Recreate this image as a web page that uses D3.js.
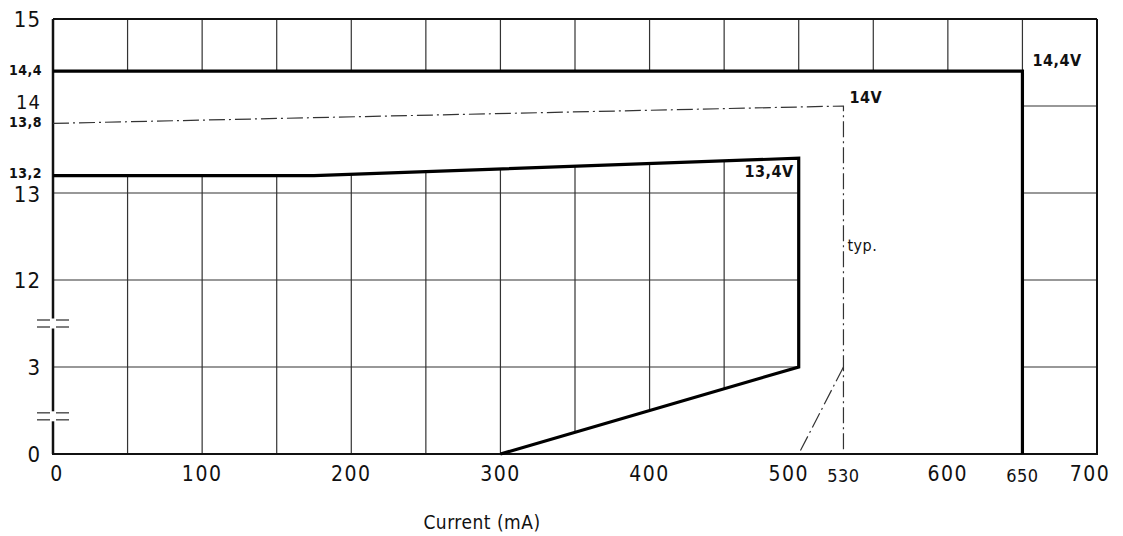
<!DOCTYPE html>
<html>
<head>
<meta charset="utf-8">
<script src="https://cdn.jsdelivr.net/npm/d3@7"></script>
<style>
	body { margin: 0; background: #fff; }
	text { font-family: 'DejaVu Sans Condensed', 'DejaVu Sans', sans-serif; fill: #111; }
</style>
</head>
<body>
<script>
var xTicks = [0, 100, 200, 300, 400, 500, 600, 700];
var xMarks = [530, 650];
var xGrid = [50, 100, 150, 200, 250, 300, 350, 400, 450, 500, 550, 600, 650];
var yTicks = [0, 3, 12, 13, 14, 15];
var yMarks = [13.2, 13.8, 14.4];
var yGrid = [3, 12, 13, 14];
var yBreaks = [7.5, 1.3];

// limit curves, [current mA, voltage V]
var maxLimit = [[0, 14.4], [650, 14.4], [650, 0]];
var minLimit = [[0, 13.2], [175, 13.2], [500, 13.4], [500, 3], [300, 0]];
var typLimit = [[0, 13.8], [530, 14], [530, 0.1]];
var typFoot = [[530, 3], [500, 0]];

var curveLabels = [
	{ text: '14,4V', x: 650, y: 14.4, dx: 10, dy: -5, anchor: 'start', bold: true },
	{ text: '14V', x: 530, y: 14, dx: 6, dy: -3, anchor: 'start', bold: true },
	{ text: '13,4V', x: 500, y: 13.4, dx: -5, dy: 19, anchor: 'end', bold: true },
	{ text: 'typ.', x: 530, y: 12.4, dx: 4, dy: 6, anchor: 'start', bold: false }
];

var width = 1123, height = 536;
var x = d3.scaleLinear().domain([0, 700]).range([53, 1097]);
var y = d3.scaleLinear().domain([0, 3, 12, 15]).range([454, 367, 280, 19]);

var svg = d3.select('body')
	.append('svg')
	.attr('width', width)
	.attr('height', height);

var line = d3.line()
	.x(function(d) { return x(d[0]); })
	.y(function(d) { return y(d[1]); });

// grid
svg.append('g').selectAll('line')
	.data(xGrid)
	.enter()
	.append('line')
	.attr('x1', function(d) { return x(d); })
	.attr('x2', function(d) { return x(d); })
	.attr('y1', y(0))
	.attr('y2', y(15))
	.attr('stroke', '#333')
	.attr('stroke-width', 1.2);

svg.append('g').selectAll('line')
	.data(yGrid)
	.enter()
	.append('line')
	.attr('x1', x(0))
	.attr('x2', x(700))
	.attr('y1', function(d) { return y(d); })
	.attr('y2', function(d) { return y(d); })
	.attr('stroke', '#333')
	.attr('stroke-width', 1.2);

// blank out the band between the two limit curves
var outer = [[0, 0], [0, 14.4], [650, 14.4], [650, 0]];
var inner = [[0, 0]].concat(minLimit);
svg.append('path')
	.attr('d', line(outer) + 'Z' + line(inner) + 'Z')
	.attr('fill', '#fff')
	.attr('fill-rule', 'evenodd');

// frame
svg.append('line')
	.attr('x1', x(0)).attr('x2', x(700))
	.attr('y1', y(15)).attr('y2', y(15))
	.attr('stroke', '#111').attr('stroke-width', 2);
svg.append('line')
	.attr('x1', x(700)).attr('x2', x(700))
	.attr('y1', y(15)).attr('y2', y(0))
	.attr('stroke', '#111').attr('stroke-width', 2);
svg.append('line')
	.attr('x1', x(0) - 1).attr('x2', x(700) + 1)
	.attr('y1', y(0)).attr('y2', y(0))
	.attr('stroke', '#111').attr('stroke-width', 2);
svg.append('line')
	.attr('x1', x(0)).attr('x2', x(0))
	.attr('y1', y(15)).attr('y2', y(0))
	.attr('stroke', '#111').attr('stroke-width', 2.5);

// axis break marks
var brk = svg.append('g').selectAll('g')
	.data(yBreaks)
	.enter()
	.append('g');
brk.append('rect')
	.attr('x', x(0) - 3)
	.attr('y', function(d) { return y(d) - 5; })
	.attr('width', 6)
	.attr('height', 10)
	.attr('fill', '#fff');
[-3.5, 3.5].forEach(function(off) {
	[[-16, -3], [3, 16]].forEach(function(seg) {
		brk.append('line')
			.attr('x1', x(0) + seg[0])
			.attr('x2', x(0) + seg[1])
			.attr('y1', function(d) { return y(d) + off; })
			.attr('y2', function(d) { return y(d) + off; })
			.attr('stroke', '#555')
			.attr('stroke-width', 1.5);
	});
});

// typical curve
[typLimit, typFoot].forEach(function(pts) {
	svg.append('path')
		.attr('d', line(pts))
		.attr('fill', 'none')
		.attr('stroke', '#333')
		.attr('stroke-width', 1.2)
		.attr('stroke-dasharray', '16,4,2,4');
});

// limit curves
[maxLimit, minLimit].forEach(function(pts) {
	svg.append('path')
		.attr('d', line(pts))
		.attr('fill', 'none')
		.attr('stroke', '#000')
		.attr('stroke-width', 3.2)
		.attr('stroke-linejoin', 'miter');
});

// y tick labels
var yShift = { 14: 3, 13: 9 };
svg.append('g').selectAll('text')
	.data(yTicks)
	.enter()
	.append('text')
	.text(function(d) { return d; })
	.attr('x', 41)
	.attr('y', function(d) { return y(d) + (d in yShift ? yShift[d] : 8); })
	.attr('text-anchor', 'end')
	.attr('font-size', function(d) { return d === 14 ? 20 : 22; })
	.attr('letter-spacing', 1);

svg.append('g').selectAll('text')
	.data(yMarks)
	.enter()
	.append('text')
	.text(function(d) { return String(d).replace('.', ','); })
	.attr('x', 42)
	.attr('y', function(d) { return y(d) + (d === 13.2 ? 2 : 4); })
	.attr('text-anchor', 'end')
	.attr('font-size', 14)
	.attr('font-weight', 'bold')
	.attr('letter-spacing', 0.5);

// x tick labels
var xShift = { 0: 4, 500: -10, 700: -7 };
svg.append('g').selectAll('text')
	.data(xTicks)
	.enter()
	.append('text')
	.text(function(d) { return d; })
	.attr('x', function(d) { return x(d) + (xShift[d] || 0); })
	.attr('y', 481)
	.attr('text-anchor', 'middle')
	.attr('font-size', 21)
	.attr('letter-spacing', 1.5);

svg.append('g').selectAll('text')
	.data(xMarks)
	.enter()
	.append('text')
	.text(function(d) { return d; })
	.attr('x', function(d) { return x(d); })
	.attr('y', 482)
	.attr('text-anchor', 'middle')
	.attr('font-size', 18)
	.attr('letter-spacing', 0.5);

// axis title
svg.append('text')
	.text('Current (mA)')
	.attr('x', 482)
	.attr('y', 529)
	.attr('text-anchor', 'middle')
	.attr('font-size', 19)
	.attr('letter-spacing', 0.5);

// curve labels
svg.append('g').selectAll('text')
	.data(curveLabels)
	.enter()
	.append('text')
	.text(function(d) { return d.text; })
	.attr('x', function(d) { return x(d.x) + d.dx; })
	.attr('y', function(d) { return y(d.y) + d.dy; })
	.attr('text-anchor', function(d) { return d.anchor; })
	.attr('font-size', 16)
	.attr('font-weight', function(d) { return d.bold ? 'bold' : 'normal'; })
	.attr('letter-spacing', 0.5);
</script>
</body>
</html>
